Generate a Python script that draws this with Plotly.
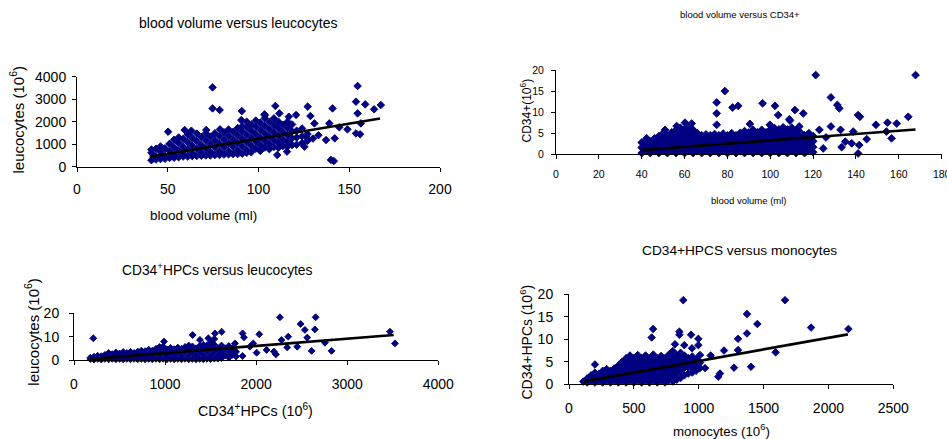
import plotly.graph_objects as go

W, H = 947, 439
FONT = "Liberation Sans, Arial, sans-serif"
NAVY = "#000080"

# ---------------- Panel 1: blood volume (ml) vs leucocytes (10^6) ----------------
bv_leuco_points = [
    (41, 290), (41, 620), (41, 760),
    (43.5, 450), (43.5, 800), (43.5, 320),
    (46, 340), (46, 650), (46, 900),
    (48.5, 480), (48.5, 820), (48.5, 350),
    (51, 390), (51, 700), (51, 1020),
    (53.5, 520), (53.5, 860), (53.5, 1200), (53.5, 400),
    (56, 420), (56, 720), (56, 1060), (56, 1300),
    (58.5, 560), (58.5, 900), (58.5, 1240), (58.5, 450),
    (61, 450), (61, 760), (61, 1100), (61, 1430),
    (63.5, 600), (63.5, 940), (63.5, 1280), (63.5, 470),
    (66, 480), (66, 800), (66, 1140), (66, 1470),
    (68.5, 640), (68.5, 980), (68.5, 1320), (68.5, 490),
    (71, 500), (71, 820), (71, 1160), (71, 1480),
    (73.5, 660), (73.5, 1000), (73.5, 1340), (73.5, 500),
    (76, 520), (76, 850), (76, 1180), (76, 1490),
    (78.5, 680), (78.5, 1020), (78.5, 1360), (78.5, 520),
    (81, 540), (81, 870), (81, 1200), (81, 1530),
    (83.5, 700), (83.5, 1040), (83.5, 1380), (83.5, 550), (83.5, 1650),
    (86, 560), (86, 890), (86, 1220), (86, 1550),
    (88.5, 720), (88.5, 1060), (88.5, 1400), (88.5, 1720), (88.5, 560),
    (91, 580), (91, 910), (91, 1240), (91, 1570), (91, 1800),
    (93.5, 750), (93.5, 1090), (93.5, 1420), (93.5, 1750), (93.5, 620), (93.5, 2000),
    (96, 640), (96, 940), (96, 1270), (96, 1600), (96, 1880),
    (98.5, 800), (98.5, 1120), (98.5, 1450), (98.5, 1780), (98.5, 2050),
    (101, 700), (101, 980), (101, 1300), (101, 1630), (101, 1960),
    (103.5, 850), (103.5, 1150), (103.5, 1480), (103.5, 1810), (103.5, 2150), (103.5, 2280),
    (106, 780), (106, 1020), (106, 1340), (106, 1660), (106, 1990),
    (108.5, 880), (108.5, 1190), (108.5, 1510), (108.5, 1840), (108.5, 2150),
    (111, 840), (111, 1060), (111, 1370), (111, 1700), (111, 2000),
    (113.5, 920), (113.5, 1220), (113.5, 1540), (113.5, 1860),
    (116, 900), (116, 1100), (116, 1400), (116, 1730), (116, 2000),
    (118.5, 960), (118.5, 1260), (118.5, 1570), (118.5, 1880),
    (121, 980), (121, 1300), (121, 1600),
    (124, 1050), (124, 1350), (124, 1700),
    (127, 1150), (127, 1450),
    (130, 1250),
    # scattered points
    (74.7, 3525), (74.7, 2590), (78.6, 2520), (90.8, 2470), (109.3, 2700),
    (111.5, 2370), (127.1, 2670), (128.6, 2250), (140.8, 2590), (154.6, 3585),
    (153.7, 2890), (154.6, 2370), (158.8, 2770), (163.7, 2550), (167.4, 2740),
    (139.9, 300), (141.5, 250), (142, 1260), (137.2, 1185), (139, 1925),
    (133, 1400), (130.8, 1925), (149, 1660), (156, 1440), (153.7, 1480),
    (156.4, 1925), (144.5, 1750), (110.3, 520), (115.7, 670), (125.3, 890),
    (127, 1260), (120.7, 2300), (116.7, 2220), (50.2, 1555), (59.3, 1630),
    (63, 1600), (71.2, 1630), (78.8, 1660), (90.5, 2070), (103.3, 2325),
]
bv_leuco_trend_x = [40, 167]
bv_leuco_trend_y = [440, 2140]

# ---------------- Panel 2: blood volume (ml) vs CD34+ (10^6) ----------------
bv_cd34_points = [
    (40, 0.3), (40, 1.6), (40, 2.8),
    (42, 0.9), (42, 2.3), (42, 3.2),
    (44, 0.3), (44, 1.6), (44, 3.0),
    (46, 0.9), (46, 2.4), (46, 3.8),
    (48, 0.3), (48, 1.7), (48, 3.1), (48, 4.3),
    (50, 0.9), (50, 2.4), (50, 3.8), (50, 5.0),
    (52, 0.3), (52, 1.7), (52, 3.1), (52, 4.5),
    (54, 0.9), (54, 2.4), (54, 3.8), (54, 5.2),
    (56, 0.3), (56, 1.7), (56, 3.1), (56, 4.5), (56, 5.8),
    (58, 0.9), (58, 2.4), (58, 3.8), (58, 5.2), (58, 6.3),
    (60, 0.3), (60, 1.7), (60, 3.1), (60, 4.5), (60, 5.9),
    (62, 0.9), (62, 2.4), (62, 3.8), (62, 5.2), (62, 6.4),
    (64, 0.3), (64, 1.7), (64, 3.1), (64, 4.5), (64, 5.8),
    (66, 0.9), (66, 2.4), (66, 3.8), (66, 5.0),
    (68, 0.3), (68, 1.7), (68, 3.1), (68, 4.5),
    (70, 0.9), (70, 2.4), (70, 3.8), (70, 4.7),
    (72, 0.3), (72, 1.7), (72, 3.1), (72, 4.5),
    (74, 0.9), (74, 2.4), (74, 3.8), (74, 4.8),
    (76, 0.3), (76, 1.7), (76, 3.1), (76, 4.5),
    (78, 0.9), (78, 2.4), (78, 3.8), (78, 4.9),
    (80, 0.3), (80, 1.7), (80, 3.1), (80, 4.5),
    (82, 0.9), (82, 2.4), (82, 3.8), (82, 5.0),
    (84, 0.3), (84, 1.7), (84, 3.1), (84, 4.5),
    (86, 0.9), (86, 2.4), (86, 3.8), (86, 5.1),
    (88, 0.3), (88, 1.7), (88, 3.1), (88, 4.5), (88, 5.5),
    (90, 0.9), (90, 2.4), (90, 3.8), (90, 5.2),
    (92, 0.3), (92, 1.7), (92, 3.1), (92, 4.5), (92, 5.8),
    (94, 0.9), (94, 2.4), (94, 3.8), (94, 5.2),
    (96, 0.3), (96, 1.7), (96, 3.1), (96, 4.5), (96, 5.8),
    (98, 0.9), (98, 2.4), (98, 3.8), (98, 5.2),
    (100, 0.3), (100, 1.7), (100, 3.1), (100, 4.5), (100, 5.9),
    (102, 0.9), (102, 2.4), (102, 3.8), (102, 5.2), (102, 6.2),
    (104, 0.3), (104, 1.7), (104, 3.1), (104, 4.5), (104, 5.9),
    (106, 0.9), (106, 2.4), (106, 3.8), (106, 5.2), (106, 6.4),
    (108, 0.3), (108, 1.7), (108, 3.1), (108, 4.5), (108, 5.9),
    (110, 0.9), (110, 2.4), (110, 3.8), (110, 5.2), (110, 6.3),
    (112, 0.3), (112, 1.7), (112, 3.1), (112, 4.5), (112, 5.7),
    (114, 0.9), (114, 2.4), (114, 3.8), (114, 5.2),
    (116, 0.3), (116, 1.7), (116, 3.1), (116, 4.5),
    (118, 0.9), (118, 2.4), (118, 3.8), (118, 5.0),
    (120, 0.5), (120, 1.7), (120, 3.1), (120, 4.3),
    # scattered points
    (121.2, 18.8), (167.8, 18.8), (78.8, 15.0), (75, 12.3), (75, 9.7), (75, 7.0),
    (82.4, 11.1), (85, 11.5), (96.4, 12.1), (102.2, 11.5), (103.7, 9.3),
    (111.5, 10.5), (115.4, 9.7), (108.9, 8.3), (128.3, 13.5), (131.3, 11.7),
    (132.2, 10.9), (128.3, 6.6), (132.8, 5.8), (141, 9.3), (141.8, 8.9),
    (138.7, 5.4), (145, 3.6), (149.3, 7.0), (154.7, 7.5), (154.2, 5.4),
    (156.6, 3.8), (159, 7.3), (164.4, 8.9), (141.5, 2.2), (141, 0.2),
    (138, 2.6), (133.3, 1.7), (124.7, 1.4), (122.9, 5.8), (56.3, 6.7),
    (60.2, 7.5), (63.3, 7.3), (50.9, 5.8), (42.3, 3.8), (90.5, 7.2),
    (99.8, 7.0), (109.2, 8.0), (113.5, 6.6), (126, 4.0), (135, 3.0),
]
bv_cd34_trend_x = [40, 167.8]
bv_cd34_trend_y = [1.0, 5.9]

# ---------------- Panel 3: CD34+HPCs (10^6) vs leucocytes (10^6) ----------------
hpc_leuco_points = [
    (180, 0.4), (180, 1.0),
    (220, 1.4), (220, 0.2),
    (260, 0.5), (260, 1.8),
    (300, 1.6), (300, 0.2),
    (340, 0.5), (340, 2.2),
    (380, 1.8), (380, 0.3), (380, 3.0),
    (420, 0.5), (420, 2.5),
    (460, 1.8), (460, 0.3), (460, 3.2),
    (500, 0.5), (500, 2.8),
    (540, 1.8), (540, 0.3), (540, 3.4),
    (580, 0.5), (580, 3.0),
    (620, 1.8), (620, 0.3), (620, 3.5),
    (660, 0.5), (660, 3.0),
    (700, 1.8), (700, 0.3), (700, 3.6),
    (740, 0.5), (740, 3.1), (740, 4.0),
    (780, 1.9), (780, 0.3), (780, 3.8),
    (820, 0.5), (820, 3.2), (820, 4.4),
    (860, 1.9), (860, 0.3), (860, 4.0),
    (900, 0.5), (900, 3.3), (900, 4.8),
    (940, 2.0), (940, 0.3), (940, 4.2), (940, 5.6),
    (980, 0.5), (980, 3.4), (980, 5.8),
    (1020, 2.0), (1020, 0.3), (1020, 4.5),
    (1060, 0.5), (1060, 3.4), (1060, 5.2),
    (1100, 2.0), (1100, 0.3), (1100, 4.6),
    (1140, 0.5), (1140, 3.5), (1140, 5.3),
    (1180, 2.0), (1180, 0.3), (1180, 4.8),
    (1220, 0.5), (1220, 3.5), (1220, 5.6),
    (1260, 2.0), (1260, 0.3), (1260, 5.0), (1260, 6.2),
    (1300, 0.5), (1300, 3.5), (1300, 5.8),
    (1340, 2.0), (1340, 0.3), (1340, 5.0),
    (1380, 0.5), (1380, 3.5), (1380, 6.0),
    (1420, 2.0), (1420, 0.3), (1420, 5.0), (1420, 6.5),
    (1460, 0.5), (1460, 3.5), (1460, 6.3),
    (1500, 2.0), (1500, 0.4), (1500, 5.0), (1500, 7.5),
    (1540, 0.6), (1540, 3.5), (1540, 6.5), (1540, 9.0),
    (1580, 2.0), (1580, 0.6), (1580, 5.0),
    (1620, 0.8), (1620, 3.5), (1620, 6.2),
    (1660, 2.0), (1660, 5.0),
    (1700, 1.0), (1700, 3.5), (1700, 6.0),
    (1740, 2.2), (1740, 4.8),
    (1780, 1.5), (1780, 3.5),
    # scattered points
    (212, 9.3), (1303, 10.7), (1383, 8.6), (1548, 11.4), (1621, 12.1),
    (1475, 9.3), (1851, 11.4), (1866, 9.7), (2034, 11.0), (1851, 1.7),
    (1932, 5.7), (2005, 3.1), (2115, 4.3), (2195, 3.6), (2217, 2.4),
    (2261, 18.3), (2279, 8.6), (2341, 5.4), (2352, 10.0), (2451, 5.7),
    (2488, 15.4), (2535, 12.9), (2561, 9.6), (2609, 3.9), (2645, 13.1),
    (2653, 18.3), (2755, 7.4), (2828, 3.9), (3469, 12.1), (3524, 7.1),
    (1968, 7.1), (1767, 7.1), (988, 7.9),
]
hpc_leuco_trend_x = [175, 3510]
hpc_leuco_trend_y = [0.4, 10.7]

# ---------------- Panel 4: monocytes (10^6) vs CD34+HPCs (10^6) ----------------
mono_hpc_points = [
    (110, 0.6),
    (140, 0.4), (140, 1.3),
    (170, 0.9), (170, 2.0),
    (200, 0.4), (200, 1.6), (200, 2.6),
    (230, 0.9), (230, 2.3),
    (260, 0.4), (260, 1.6), (260, 3.0),
    (290, 0.9), (290, 2.3), (290, 3.4),
    (320, 0.4), (320, 1.6), (320, 3.0),
    (350, 0.9), (350, 2.3), (350, 3.5),
    (380, 0.4), (380, 1.6), (380, 3.0), (380, 4.2),
    (410, 0.9), (410, 2.3), (410, 3.7), (410, 5.0),
    (440, 0.4), (440, 1.6), (440, 3.0), (440, 4.4), (440, 5.8),
    (470, 0.9), (470, 2.3), (470, 3.7), (470, 5.1), (470, 6.4),
    (500, 0.4), (500, 1.6), (500, 3.0), (500, 4.4), (500, 5.8),
    (530, 0.9), (530, 2.3), (530, 3.7), (530, 5.1), (530, 6.5),
    (560, 0.4), (560, 1.6), (560, 3.0), (560, 4.4), (560, 5.8),
    (590, 0.9), (590, 2.3), (590, 3.7), (590, 5.1), (590, 6.4),
    (620, 0.4), (620, 1.6), (620, 3.0), (620, 4.4), (620, 5.8),
    (650, 0.9), (650, 2.3), (650, 3.7), (650, 5.1), (650, 6.6),
    (680, 0.4), (680, 1.6), (680, 3.0), (680, 4.4), (680, 5.8),
    (710, 0.9), (710, 2.3), (710, 3.7), (710, 5.1), (710, 6.3),
    (740, 0.4), (740, 1.6), (740, 3.0), (740, 4.4), (740, 5.8),
    (770, 0.9), (770, 2.3), (770, 3.7), (770, 5.1), (770, 6.6),
    (800, 0.6), (800, 1.6), (800, 3.0), (800, 4.4), (800, 5.8), (800, 7.4),
    (830, 1.0), (830, 2.3), (830, 3.7), (830, 5.1), (830, 6.5),
    (860, 1.4), (860, 3.0), (860, 4.4), (860, 5.8), (860, 7.0),
    (890, 2.0), (890, 3.7), (890, 5.1), (890, 6.4),
    (920, 2.4), (920, 3.8), (920, 4.4), (920, 5.8),
    (950, 2.6), (950, 3.7), (950, 5.1), (950, 6.2),
    (980, 3.0), (980, 4.4), (980, 5.6),
    (1010, 3.6), (1010, 4.8),
    # scattered points
    (200, 4.4), (881, 18.7), (1665, 18.7), (1372, 15.6), (1452, 13.4),
    (1372, 11.3), (1303, 10.1), (1303, 7.6), (1195, 7.5), (1593, 7.1),
    (1866, 12.6), (2154, 12.3), (1403, 3.9), (1272, 3.7), (1164, 2.4),
    (1151, 1.7), (1092, 6.4), (1049, 3.6), (648, 12.3), (637, 10.4),
    (851, 11.7), (851, 11.0), (941, 11.0), (997, 10.1), (997, 8.7),
    (817, 8.9), (889, 8.7), (948, 8.0), (1010, 6.5),
]
mono_hpc_trend_x = [110, 2150]
mono_hpc_trend_y = [0.6, 11.1]

# ---------------- Layout geometry (pixels) ----------------
panels = [
    # (points, trend_x, trend_y, x0, x1, ytop, ybot, xrange, xdtick, yrange, ydtick, tickfont, x_stand, y_stand)
    (bv_leuco_points, bv_leuco_trend_x, bv_leuco_trend_y, 77, 440, 76.7, 166.7, [0, 200], 50, [0, 4000], 1000, 14, 5, 3),
    (bv_cd34_points, bv_cd34_trend_x, bv_cd34_trend_y, 556, 941.7, 70, 154.3, [0, 180], 20, [0, 20], 5, 10.5, 6, 5),
    (hpc_leuco_points, hpc_leuco_trend_x, hpc_leuco_trend_y, 74, 438.3, 313.3, 360, [0, 4000], 1000, [0, 20], 10, 14, 7, 7),
    (mono_hpc_points, mono_hpc_trend_x, mono_hpc_trend_y, 569, 893.3, 294.3, 384.3, [0, 2500], 500, [0, 20], 5, 14, 7, 8),
]
marker_sizes = [5.8, 6.0, 5.3, 5.8]

fig = go.Figure()
layout = dict(
    template="none",
    width=W, height=H, margin=dict(l=0, r=0, t=0, b=0, pad=0, autoexpand=False),
    paper_bgcolor="white", plot_bgcolor="white", showlegend=False,
    font=dict(family=FONT, color="black"),
)

for i, (pts, tx, ty, x0, x1, yt, yb, xr, xd, yr, yd, fs, xs, ys) in enumerate(panels):
    n = "" if i == 0 else str(i + 1)
    xs_vals = [p[0] for p in pts]
    ys_vals = [p[1] for p in pts]
    fig.add_trace(go.Scatter(
        x=xs_vals, y=ys_vals, mode="markers", xaxis="x" + n, yaxis="y" + n,
        marker=dict(symbol="diamond", size=marker_sizes[i], color=NAVY,
                    line=dict(width=0.9, color=NAVY)),
        cliponaxis=False, hoverinfo="skip"))
    fig.add_trace(go.Scatter(
        x=tx, y=ty, mode="lines", xaxis="x" + n, yaxis="y" + n,
        line=dict(color="black", width=2.6), cliponaxis=False, hoverinfo="skip"))
    common = dict(showline=True, linecolor="black", linewidth=1, ticks="outside", ticklen=4,
                  tickcolor="black", tickwidth=1, showgrid=False, zeroline=False, automargin=False,
                  ticklabeloverflow="allow",
                  tickfont=dict(family=FONT, size=fs, color="black"), fixedrange=True)
    layout["xaxis" + n] = dict(common, domain=[x0 / W, x1 / W], range=xr, dtick=xd, tick0=0,
                               anchor="y" + n, ticklabelstandoff=xs)
    layout["yaxis" + n] = dict(common, domain=[1 - yb / H, 1 - yt / H], range=yr, dtick=yd, tick0=0,
                               anchor="x" + n, ticklabelstandoff=ys)

# ---------------- Text annotations ----------------
ann = [
    # text, x_px, y_px, size, angle
    ("blood volume versus leucocytes", 238, 22.7, 14, 0),
    ("blood volume (ml)", 203, 215, 13.5, 0),
    ("leucocytes (10<sup>6</sup>)", 17.5, 120, 15, -90),
    ("blood volume versus CD34+", 739.5, 14.3, 9.5, 0),
    ("blood volume (ml)", 749, 200, 9.5, 0),
    ("CD34+(10<sup>6</sup>)", 525, 110.5, 12, -90),
    ("CD34<sup>+</sup>HPCs versus leucocytes", 217, 269.3, 13.8, 0),
    ("CD34<sup>+</sup>HPCs (10<sup>6</sup>)", 255.8, 410, 14.3, 0),
    ("leucocytes (10<sup>6</sup>)", 32, 331.7, 15, -90),
    ("CD34+HPCS versus monocytes", 739.5, 250, 13.7, 0),
    ("monocytes (10<sup>6</sup>)", 721.7, 430.5, 13.3, 0),
    ("CD34+HPCs (10<sup>6</sup>)", 525.8, 341.7, 14, -90),
]
layout["annotations"] = [
    dict(text=t, x=xp / W, y=1 - yp / H, xref="paper", yref="paper", xanchor="center",
         yanchor="middle", showarrow=False, textangle=a,
         font=dict(family=FONT, size=s, color="black"))
    for (t, xp, yp, s, a) in ann
]

fig.update_layout(**layout)
# the page's default 8px body margin would shift the whole chart; remove it
fig.write_html("out.html", config={"displayModeBar": False},
               post_script="document.body.style.margin='0px';")
